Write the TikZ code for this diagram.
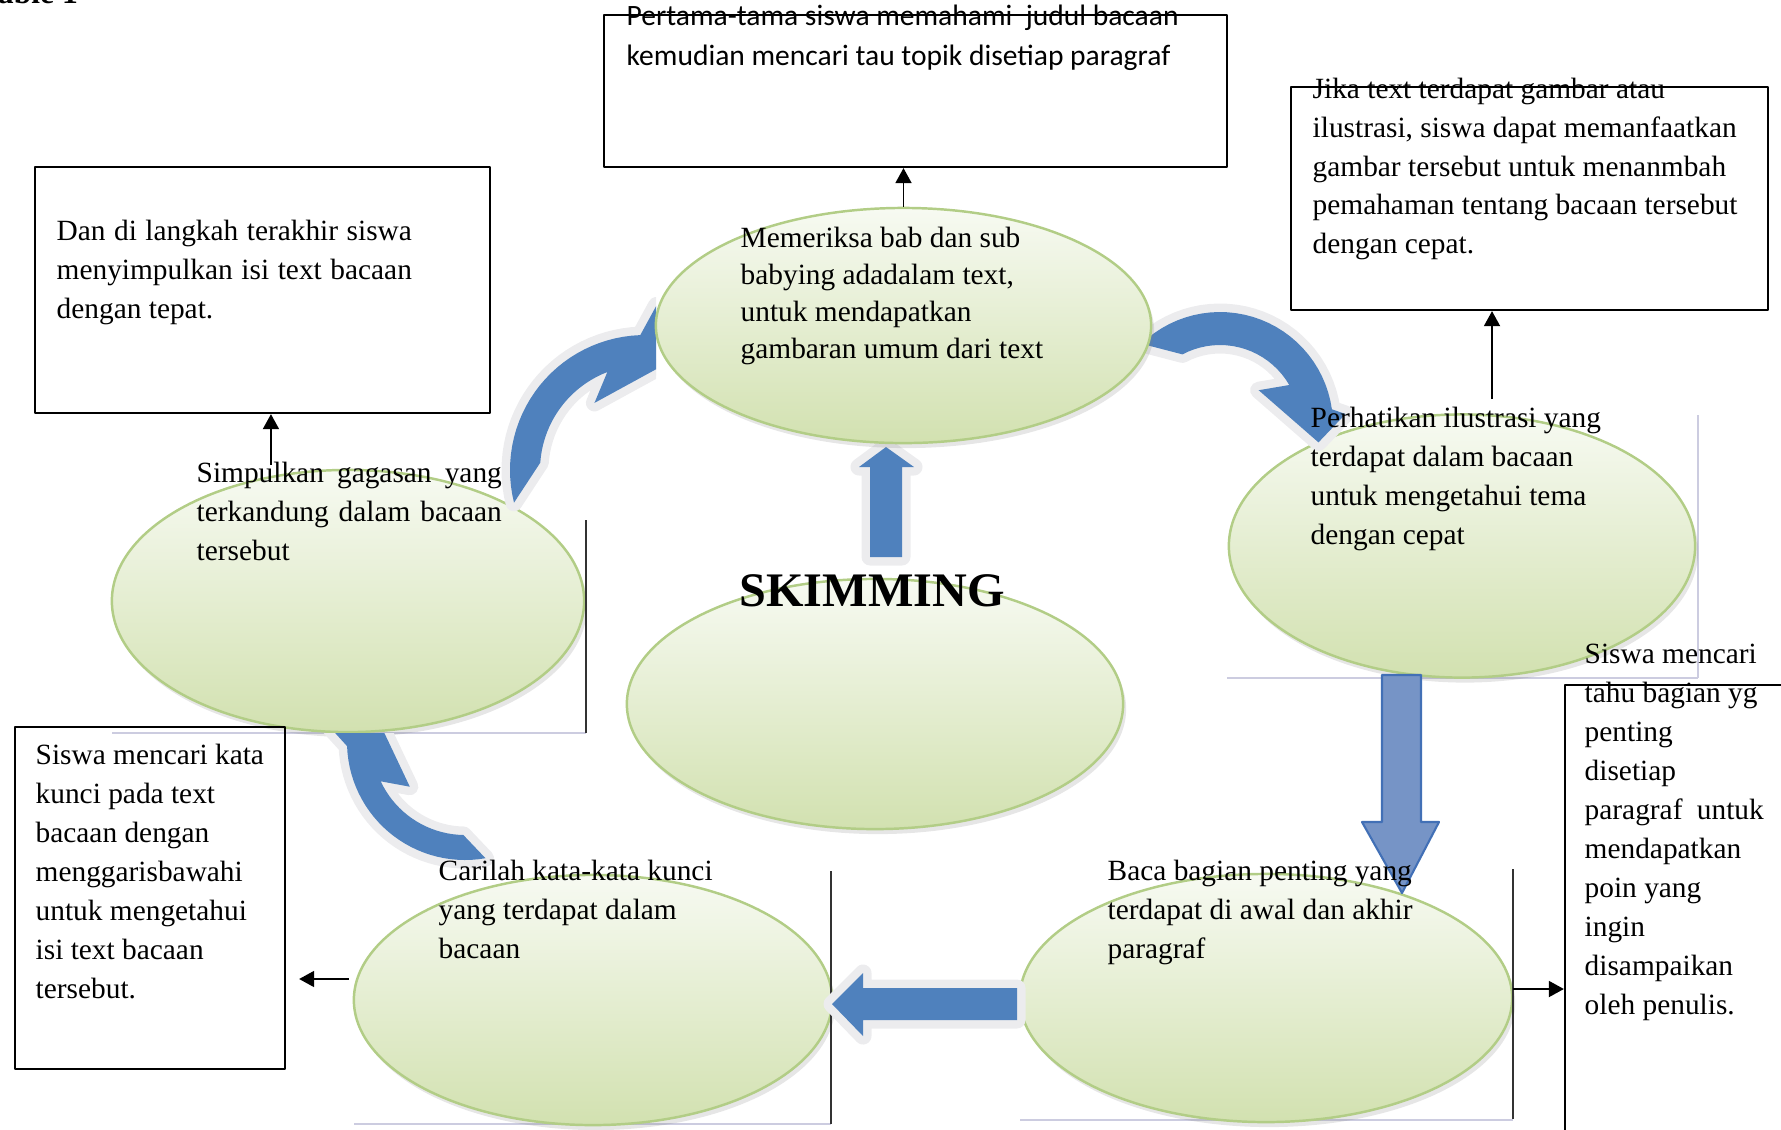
\documentclass[tikz,border=0pt]{standalone}
\usepackage{fontspec}
\setmainfont{Liberation Serif}
\newfontfamily\calibrifont{Carlito}
\usetikzlibrary{arrows.meta,shapes.geometric,shadows}
\definecolor{arrowblue}{RGB}{79,129,189}
\definecolor{ellline}{RGB}{178,205,134}
\definecolor{elltop}{RGB}{247,250,242}
\definecolor{ellbot}{RGB}{210,225,176}
\definecolor{framegray}{RGB}{204,204,224}
\definecolor{glowgray}{RGB}{236,236,238}
\definecolor{downedge}{RGB}{118,148,198}
\definecolor{downmid}{RGB}{64,122,206}
\definecolor{downline}{RGB}{66,112,182}

\begin{document}
\begin{tikzpicture}[
    x=0.01cm,
    y=-0.01cm,
    line join=round,
    ell/.style={ellipse, draw=ellline, line width=0.7pt, inner sep=0pt,
      top color=elltop, bottom color=ellbot,
      drop shadow={shadow xshift=0.3mm, shadow yshift=-0.5mm, opacity=0.2}},
    box/.style={draw, line width=0.6pt, inner sep=0pt},
    body/.style={anchor=north west, inner sep=0pt, align=left,
      font=\fontsize{8.35}{11.1}\selectfont},
    conn/.style={line width=0.5pt, -{Triangle[length=1.5mm,width=1.6mm]}},
    blockarrow/.style={fill=arrowblue,
      drop shadow={shadow xshift=0.4mm, shadow yshift=-0.4mm, opacity=0.15},
      preaction={draw=glowgray, line width=1.7mm}},
    downarrow/.style={left color=downedge, middle color=downmid, right color=downedge,
      draw=downline, line width=0.6pt},
    frameline/.style={draw=black!80, line width=0.5pt},
    lightline/.style={draw=framegray, line width=0.5pt}
  ]

  \useasboundingbox (0,0) rectangle (1781,1129);
  \clip (0,0) rectangle (1781,1129);

  \node[anchor=base west, inner sep=0pt, font=\fontsize{9}{11}\selectfont\bfseries]
    (tabcap) at (-21,3) {Table 1};

  % picture frames of the ellipses
  \foreach \xa/\xb/\y in {112/586/733, 1227/1698/678, 354/831/1124, 1020/1513/1120}
    \draw[lightline] (\xa,\y) -- (\xb,\y);
  \draw[lightline] (1698,415) -- (1698,678);

  % ellipses
  \node[ell, minimum width=4.72cm, minimum height=2.62cm] (ellL) at (348,601) {};
  \node[ell, minimum width=4.66cm, minimum height=2.63cm] (ellR) at (1462,546) {};
  \node[ell, minimum width=4.78cm, minimum height=2.50cm] (ellBL) at (593,1000) {};
  \node[ell, minimum width=4.92cm, minimum height=2.48cm] (ellBR) at (1266,998) {};
  \node[ell, minimum width=4.96cm, minimum height=2.50cm] (ellC) at (875,704) {};

  \foreach \x/\ya/\yb in {586/520/733, 831/871/1124, 1513/869/1119}
    \draw[frameline] (\x,\ya) -- (\x,\yb);

  % curved arrows
  \begin{scope}
    \clip (0,0) rectangle (656,1129);
    \path[blockarrow, shift={(645,470)}]
      plot[domain=166:268, samples=30] (\x:135) -- (274:165) -- (294:137)
      -- (233:84) -- (249:105) -- plot[domain=249:184, samples=20] (\x:105) -- cycle;
  \end{scope}
  \path[blockarrow, shift={(1220,425)}]
    plot[domain=226:352, samples=30] (\x:113) -- (355:126) -- (370:100)
    -- (318:52) -- (330:80) -- plot[domain=330:242, samples=20] (\x:80) -- cycle;
  \begin{scope}
    \clip (0,733) rectangle (1781,1129);
    \path[blockarrow, shift={(465,742)}]
      plot[domain=80:178, samples=30] (\x:118) -- (187:138) -- (207:113)
      -- (141:71) -- (155:93) -- plot[domain=155:91, samples=20] (\x:93) -- cycle;
  \end{scope}

  % straight arrows
  \path[blockarrow]
    (870,557) -- (870,467) -- (859,467) -- (886,447) -- (914,467)
    -- (902,467) -- (902,557) -- cycle;
  \path[blockarrow]
    (1017,988) -- (863,988) -- (863,973) -- (832,1004) -- (863,1036)
    -- (863,1020) -- (1017,1020) -- cycle;
  \path[downarrow]
    (1382,675) -- (1382,822) -- (1362,822) -- (1402,893) -- (1439,822)
    -- (1421,822) -- (1421,675) -- cycle;

  \node[ell, minimum width=4.95cm, minimum height=2.35cm] (ellTop) at (903.5,325.5) {};

  % boxes
  \node[box, minimum width=6.23cm, minimum height=1.52cm] (boxTop) at (915.5,91) {};
  \node[box, minimum width=4.77cm, minimum height=2.23cm] (boxTR) at (1529.5,198.5) {};
  \node[box, minimum width=4.55cm, minimum height=2.46cm] (boxL) at (262.5,290) {};
  \node[box, minimum width=2.70cm, minimum height=3.42cm] (boxBL) at (150,898) {};
  \node[box, minimum width=2.50cm, minimum height=4.80cm] (boxR) at (1690,925) {};

  % texts
  \node[body, font=\calibrifont\fontsize{8.4}{11.4}\selectfont] (txtTop) at (626,-3)
    {\strut Pertama-tama siswa memahami\ \ judul bacaan\\
     kemudian mencari tau topik disetiap paragraf};
  \node[body, font=\fontsize{8.35}{10.5}\selectfont] (txtMem) at (740,221)
    {\strut Memeriksa bab dan sub\\babying adadalam text,\\
     untuk mendapatkan\\gambaran umum dari text};
  \node[body, font=\fontsize{8.35}{11}\selectfont] (txtTR) at (1312,71)
    {\strut Jika text terdapat gambar atau\\ilustrasi, siswa dapat memanfaatkan\\
     gambar tersebut untuk menanmbah\\pemahaman tentang bacaan tersebut\\
     dengan cepat.};
  \node[body] (txtL) at (56,212)
    {\strut\makebox[3.55cm][s]{Dan di langkah terakhir siswa}\\
     \makebox[3.55cm][s]{menyimpulkan isi text bacaan}\\dengan tepat.};
  \node[body] (txtPer) at (1310,399)
    {\strut Perhatikan ilustrasi yang\\terdapat dalam bacaan\\
     untuk mengetahui tema\\dengan cepat};
  \node[body] (txtSim) at (196,454)
    {\strut\makebox[3.05cm][s]{Simpulkan gagasan yang}\\
     \makebox[3.05cm][s]{terkandung dalam bacaan}\\tersebut};
  \node[anchor=base, inner sep=0pt, font=\fontsize{13.7}{16}\selectfont\bfseries]
    (skim) at (872,606) {SKIMMING};
  \node[body] (txtBL) at (35,736)
    {\strut Siswa mencari kata\\kunci pada text\\bacaan dengan\\menggarisbawahi\\
     untuk mengetahui\\isi text bacaan\\tersebut.};
  \node[body] (txtCar) at (438,852)
    {\strut Carilah kata-kata kunci\\yang terdapat dalam\\bacaan};
  \node[body] (txtBaca) at (1107,852)
    {\strut Baca bagian penting yang\\terdapat di awal dan akhir\\paragraf};
  \node[body] (txtR) at (1584,635)
    {\strut Siswa mencari\\tahu bagian yg\\penting\\disetiap\\
     \makebox[1.79cm][s]{paragraf untuk}\\mendapatkan\\poin yang\\ingin\\
     disampaikan\\oleh penulis.};

  % connectors
  \draw[conn] (ellTop.north) -- (ellTop.north |- boxTop.south);
  \coordinate (fromR) at ([xshift=3mm,yshift=1.4mm]ellR.north);
  \draw[conn] (fromR) -- (fromR |- boxTR.south);
  \coordinate (fromL) at ([xshift=-7.7mm,yshift=0.4mm]ellL.north);
  \draw[conn] (fromL) -- (fromL |- boxL.south);
  \coordinate (fromBL) at ([xshift=-0.4mm,yshift=2.1mm]ellBL.west);
  \draw[conn] (fromBL) -- ([xshift=1.3mm]fromBL -| boxBL.east);
  \coordinate (fromBR) at ([yshift=0.9mm]ellBR.east);
  \draw[conn] (fromBR) -- (fromBR -| boxR.west);
\end{tikzpicture}
\end{document}
